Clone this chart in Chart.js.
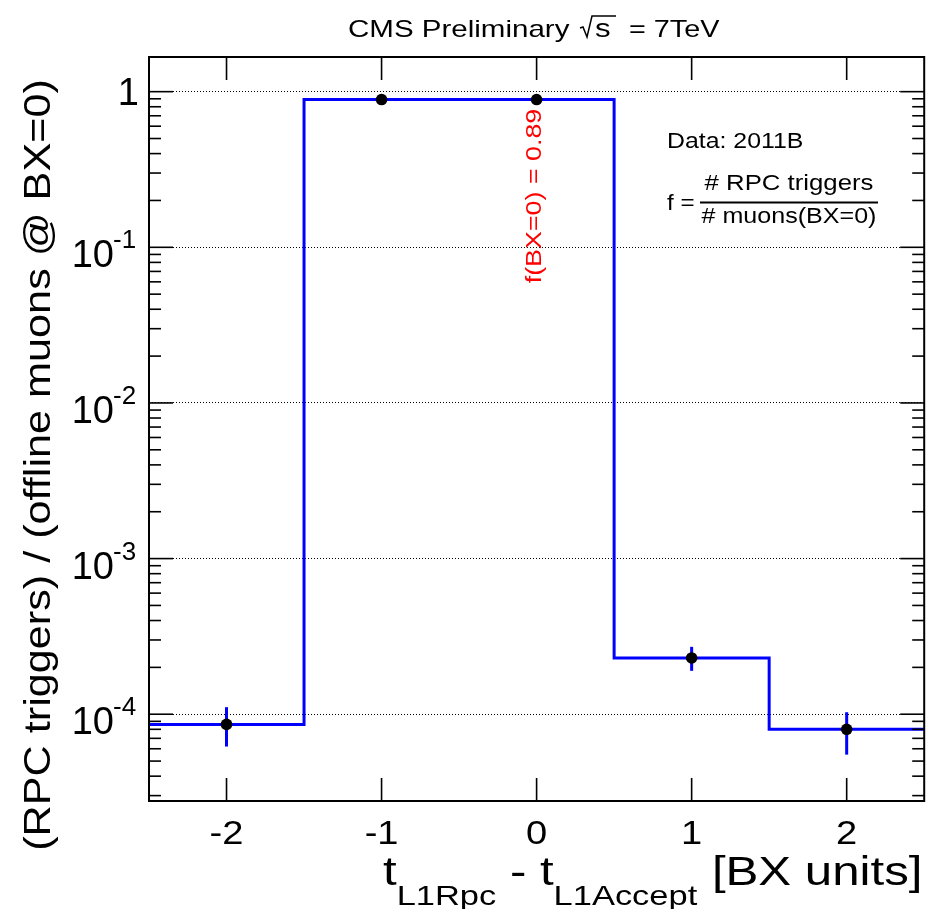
<!DOCTYPE html>
<html>
<head>
<meta charset="utf-8">
<script src="https://cdn.jsdelivr.net/npm/chart.js@4.4.1/dist/chart.umd.min.js"></script>
<style>
  html, body { margin: 0; padding: 0; background: #fff; }
  canvas { display: block; }
</style>
</head>
<body>
<canvas id="bxchart" width="930" height="909"></canvas>
<script>
// RPC trigger timing relative to L1 accept, per bunch crossing
var bxCenters = [-2, -1, 0, 1, 2];
var bxFraction = [8.6e-5, 0.89, 0.89, 2.3e-4, 8.0e-5];
var errHigh = [2.5e-5, 0, 0, 4.1e-5, 2.3e-5];
var errLow = [2.4e-5, 0, 0, 4.0e-5, 2.5e-5];
var xTickValues = [-2, -1, 0, 1, 2];
var yDecades = [1e-4, 1e-3, 1e-2, 1e-1, 1];
var yExponents = ['-4', '-3', '-2', '-1', ''];
var yMin = 2.77e-5, yMax = 1.67;

var FONT = '"Liberation Sans", Arial, Helvetica, sans-serif';

// step outline: two points per bin, at the lower and upper edge
var stepPoints = [];
bxCenters.forEach(function(c, i) {
  stepPoints.push({x: c - 0.5, y: bxFraction[i]});
  stepPoints.push({x: c + 0.5, y: bxFraction[i]});
});
var markerPoints = bxCenters.map(function(c, i) { return {x: c, y: bxFraction[i]}; });

function drawText(ctx, str, x, y, size, o) {
  o = o || {};
  ctx.save();
  ctx.font = size + 'px ' + FONT;
  ctx.fillStyle = o.color || '#000';
  ctx.textAlign = o.align || 'left';
  ctx.textBaseline = 'alphabetic';
  ctx.translate(x, y);
  if (o.rotate) ctx.rotate(o.rotate);
  var sx = o.stretch || 1;
  ctx.scale(sx, 1);
  ctx.fillText(str, 0, 0);
  var w = ctx.measureText(str).width * sx;
  ctx.restore();
  return w;
}

function line(ctx, x1, y1, x2, y2) {
  ctx.beginPath();
  ctx.moveTo(x1, y1);
  ctx.lineTo(x2, y2);
  ctx.stroke();
}

var whiteBg = {
  id: 'whiteBg',
  beforeDraw: function(chart) {
    var ctx = chart.ctx;
    ctx.save();
    ctx.fillStyle = '#fff';
    ctx.fillRect(0, 0, chart.width, chart.height);
    ctx.restore();
  }
};

// vertical error bars, drawn over the outline and under the markers
var errorBars = {
  id: 'errorBars',
  afterDatasetDraw: function(chart, args) {
    if (args.index !== 0) return;
    var ctx = chart.ctx, xs = chart.scales.x, ys = chart.scales.y;
    ctx.save();
    ctx.strokeStyle = '#0000ff';
    ctx.lineWidth = 3;
    bxCenters.forEach(function(c, i) {
      if (!errHigh[i] && !errLow[i]) return;
      var px = xs.getPixelForValue(c);
      line(ctx, px, ys.getPixelForValue(bxFraction[i] + errHigh[i]), px, ys.getPixelForValue(bxFraction[i] - errLow[i]));
    });
    ctx.restore();
  }
};

var frameAndText = {
  id: 'frameAndText',
  afterDraw: function(chart) {
    var ctx = chart.ctx, a = chart.chartArea;
    var xs = chart.scales.x, ys = chart.scales.y;
    ctx.save();
    ctx.strokeStyle = '#000';

    // tick marks on all four sides, pointing inwards
    ctx.lineWidth = 1.6;
    xTickValues.forEach(function(v) {
      var px = xs.getPixelForValue(v);
      line(ctx, px, a.bottom, px, a.bottom - 23);
      line(ctx, px, a.top, px, a.top + 23);
    });
    for (var d = 1e-5; d <= 1; d *= 10) {
      for (var k = 1; k <= 9; k++) {
        var v = k * d;
        if (v < yMin || v > yMax) continue;
        var py = ys.getPixelForValue(v);
        var len = k === 1 ? 24 : 12;
        line(ctx, a.left, py, a.left + len, py);
        line(ctx, a.right, py, a.right - len, py);
      }
    }

    // frame
    ctx.lineWidth = 2;
    ctx.strokeRect(a.left, a.top, a.right - a.left, a.bottom - a.top);

    // y tick labels
    yDecades.forEach(function(v, i) {
      var py = ys.getPixelForValue(v);
      if (yExponents[i] === '') {
        drawText(ctx, '1', 139, py + 13.5, 38, {align: 'right'});
      } else {
        drawText(ctx, yExponents[i], 113, py + 1, 26);
        drawText(ctx, '10', 114, py + 20, 38, {align: 'right'});
      }
    });

    // x tick labels
    xTickValues.forEach(function(v) {
      drawText(ctx, String(v), xs.getPixelForValue(v), 844, 34, {align: 'center', stretch: 1.12});
    });

    // y axis title
    drawText(ctx, '(RPC triggers) / (offline muons @ BX=0)', 50, 465, 36,
      {align: 'center', rotate: -Math.PI / 2, stretch: 1.2});

    // x axis title with subscripts
    var tx = 383, st = 1.23;
    tx += drawText(ctx, 't', tx, 885, 40, {stretch: st});
    tx += drawText(ctx, 'L1Rpc', tx, 905, 28, {stretch: st});
    tx += drawText(ctx, ' - t', tx, 885, 40, {stretch: st});
    tx += drawText(ctx, 'L1Accept', tx, 905, 28, {stretch: st});
    drawText(ctx, ' [BX units]', tx + 1, 885, 40, {stretch: st});

    // header with the radical over s
    var hb = 37;
    drawText(ctx, 'CMS Preliminary', 348, hb, 24, {stretch: 1.23});
    var rx = 580;
    ctx.lineWidth = 1.5;
    ctx.beginPath();
    ctx.moveTo(rx, hb - 9);
    ctx.lineTo(rx + 3, hb - 10);
    ctx.lineTo(rx + 7, hb);
    ctx.lineTo(rx + 12, hb - 21);
    ctx.lineTo(rx + 36, hb - 21);
    ctx.stroke();
    drawText(ctx, 's', rx + 15, hb, 25, {stretch: 1.25});
    drawText(ctx, '= 7TeV', 629, hb, 24, {stretch: 1.2});

    // BX=0 fraction, written along the bin
    drawText(ctx, 'f(BX=0) = 0.89', 541, 196, 22,
      {align: 'center', rotate: -Math.PI / 2, stretch: 1.22, color: '#ff0000'});

    // legend text and definition of f
    drawText(ctx, 'Data: 2011B', 667, 148, 22, {stretch: 1.13});
    drawText(ctx, 'f =', 667, 210, 22, {stretch: 1.1});
    ctx.lineWidth = 2;
    line(ctx, 700, 202.5, 878, 202.5);
    drawText(ctx, '# RPC triggers', 789, 190, 22, {align: 'center', stretch: 1.17});
    drawText(ctx, '# muons(BX=0)', 789, 223, 22, {align: 'center', stretch: 1.14});

    ctx.restore();
  }
};

var chart = new Chart(document.getElementById('bxchart').getContext('2d'), {
  type: 'line',
  data: {
    datasets: [{
      data: stepPoints,
      borderColor: '#0000ff',
      borderWidth: 3,
      pointRadius: 0,
      fill: false,
      tension: 0,
      order: 1
    }, {
      data: markerPoints,
      showLine: false,
      pointRadius: 5.8,
      pointBackgroundColor: '#000',
      pointBorderColor: '#000',
      pointBorderWidth: 0,
      order: 0
    }]
  },
  options: {
    responsive: false,
    animation: false,
    devicePixelRatio: 1,
    layout: { padding: { left: 149, top: 57, right: 5, bottom: 108 } },
    plugins: { legend: { display: false }, tooltip: { enabled: false }, title: { display: false } },
    scales: {
      x: {
        type: 'linear',
        min: -2.5,
        max: 2.5,
        afterBuildTicks: function(s) { s.ticks = xTickValues.map(function(v) { return {value: v}; }); },
        grid: { display: false, drawTicks: false },
        border: { display: false },
        ticks: { display: false }
      },
      y: {
        type: 'logarithmic',
        min: yMin,
        max: yMax,
        afterBuildTicks: function(s) { s.ticks = yDecades.map(function(v) { return {value: v}; }); },
        grid: { color: '#000', lineWidth: 1, drawTicks: false },
        border: { display: false, dash: [1, 2] },
        ticks: { display: false }
      }
    }
  },
  plugins: [whiteBg, errorBars, frameAndText]
});
</script>
</body>
</html>
